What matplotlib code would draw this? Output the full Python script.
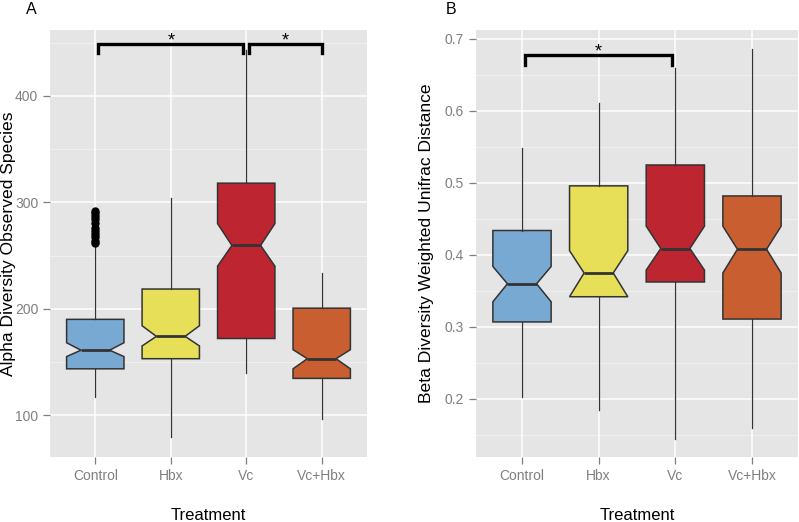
import numpy as np
import matplotlib.pyplot as plt

plt.rcParams['font.family'] = ['Liberation Sans', 'DejaVu Sans']

groups = ['Control', 'Hbx', 'Vc', 'Vc+Hbx']
colors = ['#78A9D3', '#E8DF58', '#BD2630', '#C95F31']

# panel A: alpha diversity (observed species)
a_whislo = [117, 79, 140, 96]
a_q1 = [143.5, 153, 172, 134.5]
a_ci_lo = [155, 165, 240, 143.5]
a_med = [161, 174, 259.5, 153]
a_ci_hi = [168, 184, 280, 161.5]
a_q3 = [190, 218.5, 318, 200.5]
a_whishi = [258.5, 304, 443, 234]
a_fliers = [[262, 264, 267, 270, 273, 276, 281, 284, 287, 290, 292], [], [], []]

# panel B: beta diversity (weighted unifrac distance)
b_whislo = [0.203, 0.184, 0.145, 0.159]
b_q1 = [0.307, 0.342, 0.3625, 0.311]
b_ci_lo = [0.335, 0.342, 0.379, 0.375]
b_med = [0.360, 0.375, 0.409, 0.408]
b_ci_hi = [0.384, 0.406, 0.440, 0.440]
b_q3 = [0.434, 0.496, 0.525, 0.482]
b_whishi = [0.548, 0.611, 0.660, 0.686]
b_fliers = [[], [], [], []]

W, H = 799, 522
fig = plt.figure(figsize=(W / 100, H / 100), dpi=100)


def px_axes(x0, x1, y0, y1):
    return fig.add_axes([x0 / W, 1 - y1 / H, (x1 - x0) / W, (y1 - y0) / H])


def draw_panel(ax, whislo, q1, cilo, med, cihi, q3, whishi, fliers,
               ylim, majors, minors, ylabel, fmt, label_x):
    stats = []
    for i in range(len(groups)):
        stats.append(dict(whislo=whislo[i], q1=q1[i], cilo=cilo[i], med=med[i],
                          cihi=cihi[i], q3=q3[i], whishi=whishi[i],
                          fliers=fliers[i], label=groups[i]))
    ax.set_facecolor('#E5E5E5')
    for v in minors:
        ax.axhline(v, color='#F2F2F2', lw=0.6, zorder=0.5)
    for v in majors:
        ax.axhline(v, color='white', lw=1.1, zorder=0.6)
    for p in range(1, 5):
        ax.axvline(p, color='white', lw=1.1, zorder=0.6)
    bp = ax.bxp(stats, positions=range(1, 5), widths=0.76, shownotches=True,
                patch_artist=True, showcaps=False,
                boxprops=dict(edgecolor='#333333', linewidth=1.1),
                whiskerprops=dict(color='#333333', linewidth=0.9),
                medianprops=dict(color='#333333', linewidth=2.0),
                flierprops=dict(marker='o', markerfacecolor='black',
                                markeredgecolor='black', markersize=5))
    for patch, c in zip(bp['boxes'], colors):
        patch.set_facecolor(c)
    ax.set_xlim(0.4, 4.6)
    ax.set_ylim(*ylim)
    ax.set_yticks(majors)
    ax.set_yticklabels([fmt(v) for v in majors])
    ax.set_xticks(range(1, 5))
    ax.set_xticklabels(groups)
    for s in ax.spines.values():
        s.set_visible(False)
    ax.tick_params(colors='#7F7F7F', labelcolor='#7F7F7F', labelsize=10,
                   length=5, width=0.9)
    ax.set_xlabel('Treatment', fontsize=12, labelpad=18)
    ax.set_ylabel(ylabel, fontsize=12.6)
    ax.yaxis.set_label_coords(label_x, 0.5)


def bracket(ax, x0, x1, y, drop):
    ax.plot([x0, x0, x1, x1], [y - drop, y, y, y - drop], color='black',
            lw=2.4, solid_joinstyle='miter', zorder=5, clip_on=False)


axA = px_axes(50, 367, 30, 457)
draw_panel(axA, a_whislo, a_q1, a_ci_lo, a_med, a_ci_hi, a_q3, a_whishi, a_fliers,
           (60.6, 462), [100, 200, 300, 400], [150, 250, 350, 450],
           'Alpha Diversity Observed Species', lambda v: '%d' % v, -0.107)
bracket(axA, 1.03, 2.96, 449, 9)
bracket(axA, 3.04, 4.0, 449, 9)
axA.text(2.0, 447, '*', ha='center', va='baseline', fontsize=13)
axA.text(3.52, 447, '*', ha='center', va='baseline', fontsize=13)

axB = px_axes(476, 798, 30, 457)
draw_panel(axB, b_whislo, b_q1, b_ci_lo, b_med, b_ci_hi, b_q3, b_whishi, b_fliers,
           (0.1194, 0.7125), [0.2, 0.3, 0.4, 0.5, 0.6, 0.7],
           [0.15, 0.25, 0.35, 0.45, 0.55, 0.65],
           'Beta Diversity Weighted Unifrac Distance', lambda v: '%.1f' % v, -0.130)
bracket(axB, 1.04, 2.95, 0.678, 0.014)
axB.text(2.0, 0.6764, '*', ha='center', va='baseline', fontsize=13)

fig.text(31 / W, 1 - 10 / H, 'A', ha='center', va='center', fontsize=11.5)
fig.text(451 / W, 1 - 10 / H, 'B', ha='center', va='center', fontsize=11.5)

fig.savefig('out.png', dpi=100)
